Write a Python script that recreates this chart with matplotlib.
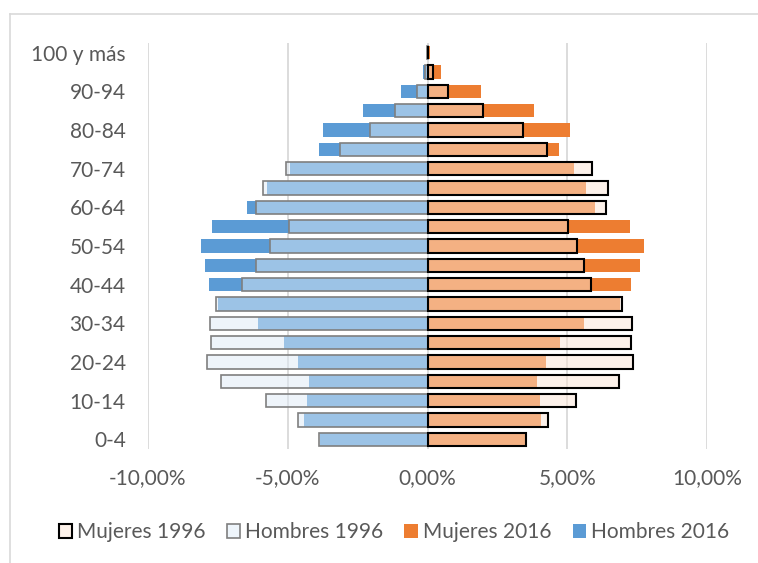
import matplotlib
matplotlib.use('Agg')
import matplotlib.pyplot as plt
import numpy as np
from matplotlib.patches import Patch
from matplotlib.lines import Line2D

edades = ['0-4', '5-9', '10-14', '15-19', '20-24', '25-29', '30-34', '35-39',
          '40-44', '45-49', '50-54', '55-59', '60-64', '65-69', '70-74',
          '75-79', '80-84', '85-89', '90-94', '95-99', '100 y más']

# porcentajes de la poblacion total
hombres_1996 = [3.87, 4.65, 5.79, 7.40, 7.88, 7.74, 7.79, 7.56, 6.64, 6.14, 5.62,
                4.95, 6.12, 5.90, 5.08, 3.12, 2.07, 1.17, 0.39, 0.08, 0.01]
hombres_2016 = [3.85, 4.42, 4.31, 4.24, 4.62, 5.12, 6.08, 7.50, 7.81, 7.96, 8.12,
                7.71, 6.45, 5.74, 4.93, 3.87, 3.74, 2.31, 0.94, 0.17, 0.03]
mujeres_1996 = [3.54, 4.30, 5.33, 6.86, 7.35, 7.27, 7.30, 6.95, 5.85, 5.61, 5.36,
                5.04, 6.37, 6.47, 5.87, 4.27, 3.40, 1.98, 0.75, 0.18, 0.01]
mujeres_2016 = [3.52, 4.05, 4.01, 3.91, 4.24, 4.75, 5.60, 6.90, 7.29, 7.60, 7.73,
                7.23, 5.99, 5.68, 5.25, 4.70, 5.11, 3.82, 1.92, 0.48, 0.08]

xticks = [-10, -5, 0, 5, 10]

plt.rcParams['font.family'] = ['Lato', 'DejaVu Sans']
gris = '#595959'

fig = plt.figure(figsize=(7.58, 5.63), dpi=100)
ax = fig.add_axes([148/758, 1 - 449/563, (707 - 148)/758, (449 - 43)/563])

y = np.arange(len(edades))
h = 0.68

# 2016 debajo
ax.barh(y, -np.array(hombres_2016), height=h, color='#5B9BD5', zorder=2)
ax.barh(y, mujeres_2016, height=h, color='#ED7D31', zorder=2)

# 1996 encima con relleno semitransparente
fc_h96 = (0xDE/255, 0xEB/255, 0xF7/255, 0.5)
fc_m96 = (0xFB/255, 0xE5/255, 0xD6/255, 0.5)
ax.barh(y, -np.array(hombres_1996), height=h, facecolor=fc_h96,
        edgecolor='#7F7F7F', linewidth=1.2, zorder=3)
ax.barh(y, mujeres_1996, height=h, facecolor=fc_m96,
        edgecolor='black', linewidth=1.5, zorder=3)

ax.set_xlim(-10, 10)
ax.set_ylim(-0.5, len(edades) - 0.5)
ax.set_xticks(xticks)
ax.set_xticklabels([('%.2f%%' % v).replace('.', ',') for v in xticks])
ax.set_yticks(y[::2])
ax.set_yticklabels(edades[::2])
ax.tick_params(length=0, labelsize=15, colors=gris)
ax.tick_params(axis='y', pad=16)
ax.tick_params(axis='x', pad=14)
ax.grid(axis='x', color='#D9D9D9', linewidth=1.3, zorder=0)
ax.set_axisbelow(True)
for s in ax.spines.values():
    s.set_visible(False)

handles = [Patch(facecolor='#FDF2EA', edgecolor='black', linewidth=1.5),
           Patch(facecolor='#EEF5FB', edgecolor='#7F7F7F', linewidth=1.2),
           Patch(facecolor='#ED7D31'),
           Patch(facecolor='#5B9BD5')]
labels = ['Mujeres 1996', 'Hombres 1996', 'Mujeres 2016', 'Hombres 2016']
leg = fig.legend(handles, labels, loc='center', ncol=4, frameon=False,
                 bbox_to_anchor=(394/758, 1 - 532/563), fontsize=15,
                 handlelength=0.65, handleheight=0.65, handletextpad=0.25,
                 columnspacing=1.0, borderaxespad=0)
for t in leg.get_texts():
    t.set_color(gris)

# marco del grafico
fig.add_artist(Line2D([9.5/758, 9.5/758], [0, 1 - 14/563], color='#D9D9D9',
                      linewidth=1.2, transform=fig.transFigure))
fig.add_artist(Line2D([9.5/758, 1], [1 - 14/563, 1 - 14/563], color='#D9D9D9',
                      linewidth=1.2, transform=fig.transFigure))

fig.savefig('out.png', dpi=100)
